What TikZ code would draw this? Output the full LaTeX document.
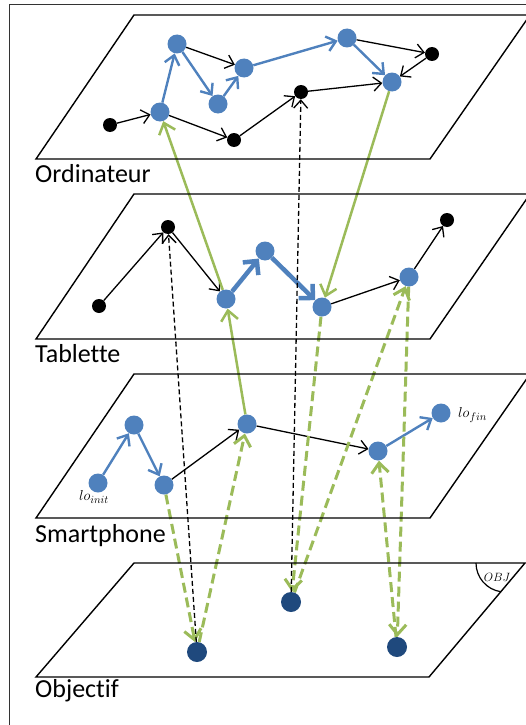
\documentclass[tikz,border=0pt]{standalone}
\usepackage{fontspec}
\setmainfont{Carlito}[Ligatures=NoCommon]
\usetikzlibrary{arrows.meta}
\pgfdeclarelayer{bg}
\pgfsetlayers{bg,main}
\definecolor{oblue}{RGB}{79,129,189}
\definecolor{ogreen}{RGB}{155,187,89}
\definecolor{onavy}{RGB}{31,73,125}
\begin{document}
\begin{tikzpicture}[x=1pt,y=-1pt,
 bdot/.style={circle,fill=black,inner sep=0pt,minimum size=14pt},
 udot/.style={circle,fill=oblue,inner sep=0pt,minimum size=19pt},
 ndot/.style={circle,fill=onavy,inner sep=0pt,minimum size=20pt},
 plane/.style={draw=black,line width=1.4pt,line join=miter},
 blk/.style={draw=black,line width=1.3pt,-{Straight Barb[length=8pt,width=14pt]}},
 blu/.style={draw=oblue,line width=2.4pt,-{Straight Barb[length=9pt,width=15pt]}},
 bluthick/.style={draw=oblue,line width=4.5pt,-{Straight Barb[length=10pt,width=20pt]}},
 grn/.style={draw=ogreen,line width=2.5pt,-{Straight Barb[length=10pt,width=17pt]}},
 grnd/.style={grn,line width=3pt,dash pattern=on 10pt off 5pt},
 blkd/.style={blk,dash pattern=on 5pt off 3pt},
 lab/.style={anchor=base west,font=\fontsize{26}{30}\selectfont,inner sep=0pt},
 mlab/.style={inner sep=0pt,font=\fontsize{15}{18}\selectfont}
]
\useasboundingbox (0,0) rectangle (526,725);
% frame
\draw[draw=black!80,line width=1pt] (9,725) -- (9,5) -- (527,5);
% planes
\draw[plane] (36,159) -- (134,15) -- (530,15) -- (430,159) -- cycle;
\draw[plane] (36,339) -- (134,194) -- (530,194) -- (430,339) -- cycle;
\draw[plane] (36,518) -- (134,374) -- (530,374) -- (430,518) -- cycle;
\draw[plane] (36,677) -- (134,563) -- (525,563) -- (429,677) -- cycle;
\draw[line width=1.2pt] (476,563) arc[start angle=180,end angle=98,radius=29];
\node[inner sep=0pt,font=\fontsize{13}{15}\selectfont] (objl) at (497,577) {$OBJ$};
% labels
\node[lab] (lord) at (35,182) {Ordinateur};
\node[lab] (ltab) at (35,362) {Tablette};
\node[lab] (lsma) at (35,542) {Smartphone};
\node[lab] (lobj) at (35,697) {Objectif};
% Ordinateur nodes
\node[bdot] (a1) at (110,125) {};
\node[udot] (b1) at (160,112) {};
\node[udot] (b2) at (177,44) {};
\node[udot] (b3) at (218,104) {};
\node[udot] (b4) at (244,68) {};
\node[udot] (b5) at (347,38) {};
\node[bdot] (c1) at (432,54) {};
\node[udot] (b6) at (392,82) {};
\node[bdot] (d1) at (234,140) {};
\node[bdot] (d2) at (301,92) {};
% Tablette nodes
\node[bdot] (t1) at (99,306) {};
\node[bdot] (t2) at (168,227) {};
\node[udot] (t3) at (226,299) {};
\node[udot] (t4) at (265,251) {};
\node[udot] (t5) at (322,307) {};
\node[udot] (t6) at (409,277) {};
\node[bdot] (t7) at (447,220) {};
% Smartphone nodes
\node[udot] (s1) at (98,483) {};
\node[udot] (s2) at (134,425) {};
\node[udot] (s3) at (164,485) {};
\node[udot] (s4) at (247,424) {};
\node[udot] (s5) at (378,451) {};
\node[udot] (s6) at (441,413) {};
\node[mlab] (linit) at (94,497) {$lo_{init}$};
\node[mlab,anchor=west] (lfin) at (458,415) {$lo_{fin}$};
% Objectif nodes
\node[ndot] (o1) at (197,652) {};
\node[ndot] (o2) at (291,602) {};
\node[ndot] (o3) at (397,647) {};
\begin{pgfonlayer}{bg}
% Ordinateur edges
\draw[blk] (a1) -- (b1);
\draw[blu] (b1) -- (b2);
\draw[blk] (b2) -- (b4);
\draw[blu] (b2) -- (b3);
\draw[blu] (b3) -- (b4);
\draw[blu] (b4) -- (b5);
\draw[blk] (b5) -- (c1);
\draw[blu] (b5) -- (b6);
\draw[blk] (c1) -- (b6);
\draw[blk] (b1) -- (d1);
\draw[blk] (d1) -- (d2);
\draw[blk] (d2) -- (b6);
% Tablette edges
\draw[blk] (t1) -- (t2);
\draw[blk] (t2) -- (t3);
\draw[bluthick] (t3) -- (t4);
\draw[bluthick] (t4) -- (t5);
\draw[blk] (t5) -- (t6);
\draw[blk] (t6) -- (t7);
% Smartphone edges
\draw[blu] (s1) -- (s2);
\draw[blu] (s2) -- (s3);
\draw[blk] (s3) -- (s4);
\draw[blk] (s4) -- (s5);
\draw[blu] (s5) -- (s6);
% between planes
\draw[grn] (t3) -- (b1);
\draw[grn] (b6) -- (t5);
\draw[grn] (s4) -- (t3);
\draw[grnd] (s3) -- (o1);
\draw[grnd] (o1) -- (s4);
\draw[blkd] (o1) -- (t2);
\draw[grnd] (t5) -- (o2);
\draw[grnd] (o2) -- (t6);
\draw[blkd] (o2) -- (d2);
\draw[grnd] (t6) -- (o3);
\draw[grnd] (o3) -- (s5);
\end{pgfonlayer}
\end{tikzpicture}
\end{document}
